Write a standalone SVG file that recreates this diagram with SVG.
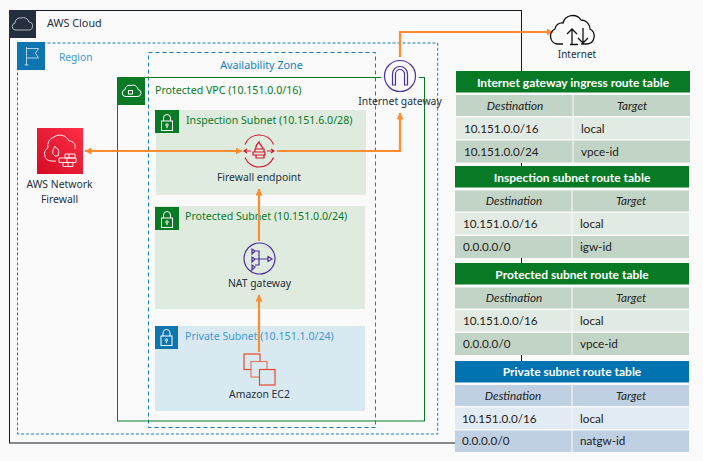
<svg xmlns="http://www.w3.org/2000/svg" width="703" height="461" viewBox="0 0 703 461">
<style>
text{font-family:"Noto Sans","Open Sans","Liberation Sans",sans-serif;font-size:10.4px;fill:#232f3e}
.m{text-anchor:middle}
.c{font-size:10.8px}
.g{fill:#087a26;font-size:10.6px}.b{fill:#147eba;font-size:10.8px}.lb{fill:#3b99d6;font-size:10.6px}
.ic{fill:none;stroke:#fff;stroke-width:1}
.flow{fill:none;stroke:#ff8c2e;stroke-width:2.2}
.t{font-family:Lato,"Liberation Sans",sans-serif;font-size:11.7px;fill:#222}
.th{font-family:Lato,"Liberation Sans",sans-serif;font-size:12px;font-weight:700;fill:#fff;text-anchor:middle}
.ci{font-style:italic;text-anchor:middle}
.dg{fill:#c2d4c5}.lg{fill:#e2ebe3}.dbl{fill:#bfd0e3}.lbl{fill:#e2eaf3}
.hg{fill:#087a26}.hb{fill:#0073b0}
.gap{fill:#fafafa}
.pur{fill:none;stroke:#4d31a0;stroke-width:1.2}
.red{fill:none;stroke:#d4162f;stroke-width:1.2}
.ec2{fill:none;stroke:#e4492a;stroke-width:1.2}
</style>
<defs>
<marker id="ah" markerWidth="8" markerHeight="8" refX="6.5" refY="3.500" orient="auto-start-reverse" markerUnits="userSpaceOnUse"><path d="M0 0L7 3.500L0 7z" fill="#ff8c2e"/></marker>
<linearGradient id="fw" x1="0" y1="1" x2="1" y2="0"><stop offset="0" stop-color="#d40a24"/><stop offset="1" stop-color="#ff3048"/></linearGradient>
<g id="lock"><rect x="-5.500" y="-1" width="11" height="9.500" class="ic"/><path class="ic" d="M-3.500-1v-3a3.500 3.500 0 0 1 7 0v3"/><circle cx="0" cy="3" r="1.200" class="ic"/><path class="ic" d="M0 4.200v2"/></g>
</defs>
<rect width="703" height="461" fill="#fafafa"/>

<g id="aws-cloud">
<rect x="9.500" y="10.500" width="512" height="432.500" fill="none" stroke="#10191f" stroke-width="1"/>
<rect x="9" y="10" width="27" height="28" fill="#232f3e"/>
<path d="M15 30h13a4 4 0 0 0 1-8 6 6 0 0 0-8-4 5 5 0 0 0-6 5 3.600 3.600 0 0 0 0 7z" fill="none" stroke="#d5dbdb" stroke-width=".8"/>
<text x="47" y="27" class="c">AWS Cloud</text>
</g>
<g id="region">
<rect x="17.500" y="43" width="420.200" height="391" fill="none" stroke="#147eba" stroke-dasharray="3 2" stroke-width="1"/>
<rect x="17" y="42" width="28" height="28" fill="#0f75b0"/>
<path d="M26.500 47v18M24.500 65h4M26.500 48.500h12l-3 4.500 3 5h-12" fill="none" stroke="#dbeaf4" stroke-width=".8"/>
<text x="59" y="61" class="lb" style="font-size:10.2px">Region</text>
</g>
<g id="availability-zone">
<rect x="148.500" y="52.500" width="227" height="375" fill="none" stroke="#147eba" stroke-dasharray="4 3" stroke-width="1"/>
<text x="261.500" y="69" class="m b">Availability Zone</text>
</g>
<g id="vpc">
<rect x="117.500" y="77.500" width="307" height="343.500" fill="none" stroke="#087a26" stroke-width="1"/>
<rect x="117" y="77" width="28" height="28" fill="#087a26"/>
<path d="M125 96.500h12a3.500 3.500 0 0 0 1-7 5 5 0 0 0-7-4 4.500 4.500 0 0 0-6 4 3.600 3.600 0 0 0 0 7z" class="ic"/>
<rect x="128.500" y="90.500" width="4" height="3.500" class="ic"/>
<text x="155" y="94" class="g">Protected VPC (10.151.0.0/16)</text>
</g>
<g id="inspection-subnet">
<rect x="156" y="110" width="210" height="85" fill="#e0ebdf"/>
<rect x="155" y="110" width="24" height="23" fill="#087a26"/>
<use href="#lock" x="167" y="122"/>
<text x="186" y="124" class="g">Inspection Subnet (10.151.6.0/28)</text>
</g>
<g id="protected-subnet">
<rect x="155" y="206" width="210" height="103" fill="#e0ebdf"/>
<rect x="155" y="207" width="24" height="23" fill="#087a26"/>
<use href="#lock" x="167" y="219"/>
<text x="185" y="220" class="g">Protected Subnet (10.151.0.0/24)</text>
</g>
<g id="private-subnet">
<rect x="155" y="326" width="210" height="85" fill="#d9e9f1"/>
<rect x="155" y="326" width="23" height="23" fill="#0f75b0"/>
<use href="#lock" x="166.500" y="337"/>
<text x="185" y="340" class="lb">Private Subnet (10.151.1.0/24)</text>
</g>

<g id="connectors">
<path class="flow" d="M85 151H242" marker-start="url(#ah)" marker-end="url(#ah)"/>
<path class="flow" d="M277 151H400V113" marker-end="url(#ah)"/>
<path class="flow" d="M259 241V189" marker-end="url(#ah)"/>
<path class="flow" d="M259 352V295" marker-end="url(#ah)"/>
<path class="flow" d="M400 60V32H553" marker-end="url(#ah)"/>
</g>

<g id="aws-network-firewall">
<rect x="37" y="128" width="46" height="46" fill="url(#fw)"/>
<path d="M56 161h-5a7 7 0 0 1-3-13 9 9 0 0 1 6-11 10 10 0 0 1 15 4 6 6 0 0 1 6 8" fill="none" stroke="#fff" stroke-width=".9"/>
<path d="M55 156c-4-3-2-6 0-10 1 2 2 3 3 3 1 2 1 4 0 7z" fill="none" stroke="#fff" stroke-width=".9"/>
<path d="M65 154h10v4h-10zM59 158h17v4.500h-17zM63 162.500h10v4h-10zM69 154v4M67 158v4.500M68 162.500v4" fill="none" stroke="#fff" stroke-width=".9"/>
<text x="59.500" y="188.300" class="m">AWS Network</text>
<text x="59.500" y="202.600" class="m">Firewall</text>
</g>
<g id="firewall-endpoint">
<path class="red" d="M245 144.400A15.500 15.500 0 0 1 273.500 144.400M245 157.600A15.500 15.500 0 0 0 273.500 157.600"/>
<path class="red" d="M244 151h7M274 151h-7M247 149l-3 2 3 2M271 149l3 2-3 2"/>
<path class="red" d="M256 149c-1-3 1-5 3-7 0 2 3 3 4 7M255 149h9v3h-9zM253 152h12v3h-12zM256 155h8v3h-8z"/>
<text x="259" y="181" class="m">Firewall endpoint</text>
</g>
<g id="internet-gateway">
<circle cx="400" cy="76" r="19" fill="#fafafa" stroke="none"/>
<circle cx="400" cy="76" r="15.500" class="pur"/>
<path class="pur" d="M392.500 85V74a7.500 7.500 0 0 1 15 0V85h-3V74a4.500 4.500 0 0 0-9 0V85z"/>
<text x="400" y="105" class="m">Internet gateway</text>
</g>
<g id="nat-gateway">
<circle cx="259.500" cy="258.500" r="15.500" class="pur"/>
<path class="pur" d="M255 251l-3-2v5zM255 259l-3-2v5zM255 267l-3-2v5zM255 251h4v14h-4M255 259h13M268 256.500l4 2.500-4 2.500z"/>
<text x="259.500" y="287" class="m">NAT gateway</text>
</g>
<g id="amazon-ec2">
<rect x="244" y="354" width="16" height="15.500" class="ec2"/>
<rect x="251" y="361.500" width="16" height="15.500" fill="#d9e9f1" stroke="#e87a60" stroke-width="1.200"/>
<rect x="259.500" y="369.500" width="15.500" height="15.500" fill="#d9e9f1" stroke="#e4492a" stroke-width="1.200"/>
<text x="259.500" y="398" class="m">Amazon EC2</text>
</g>
<g id="internet">
<path d="M563 44h-6a8 8 0 0 1-2-15 7 7 0 0 1 8-6 10 10 0 0 1 18-3 9 9 0 0 1 9 9 8 8 0 0 1-3 15h-6" fill="none" stroke="#111" stroke-width="1.300"/>
<path d="M572 44V29M567 34l5-5 5 5M583 28v15M578 38l5 5 5-5M570 44.500h8" fill="none" stroke="#111" stroke-width="1.300"/>
<text x="577" y="58" class="m" style="font-size:10px">Internet</text>
</g>

<g id="igw-table">
<rect x="456" y="71" width="234" height="92" class="gap"/>
<rect x="456" y="71" width="234" height="21.500" class="hg"/>
<text x="573" y="87" class="th">Internet gateway ingress route table</text>
<rect x="456" y="95" width="116.500" height="21" class="dg"/><rect x="573.500" y="95" width="116.500" height="21" class="dg"/>
<rect x="456" y="117.500" width="116.500" height="21.500" class="lg"/><rect x="573.500" y="117.500" width="116.500" height="21.500" class="lg"/>
<rect x="456" y="140.500" width="116.500" height="22" class="dg"/><rect x="573.500" y="140.500" width="116.500" height="22" class="dg"/>
<text x="515" y="110" class="t ci">Destination</text><text x="632" y="110" class="t ci">Target</text>
<text x="464" y="133" class="t">10.151.0.0/16</text><text x="581" y="133" class="t">local</text>
<text x="464" y="156" class="t">10.151.0.0/24</text><text x="581" y="156" class="t">vpce-id</text>
</g>
<g id="inspection-table">
<rect x="455" y="166" width="234" height="92" class="gap"/>
<rect x="455" y="166" width="234" height="21.500" class="hg"/>
<text x="572" y="182" class="th">Inspection subnet route table</text>
<rect x="455" y="190.500" width="116.500" height="21" class="dg"/><rect x="572.500" y="190.500" width="116.500" height="21" class="dg"/>
<rect x="455" y="213" width="116.500" height="21.500" class="lg"/><rect x="572.500" y="213" width="116.500" height="21.500" class="lg"/>
<rect x="455" y="236" width="116.500" height="22" class="dg"/><rect x="572.500" y="236" width="116.500" height="22" class="dg"/>
<text x="514" y="205" class="t ci">Destination</text><text x="631" y="205" class="t ci">Target</text>
<text x="463" y="228" class="t">10.151.0.0/16</text><text x="580" y="228" class="t">local</text>
<text x="463" y="251" class="t">0.0.0.0/0</text><text x="580" y="251" class="t">igw-id</text>
</g>
<g id="protected-table">
<rect x="455" y="263" width="234" height="92" class="gap"/>
<rect x="455" y="263" width="234" height="21.500" class="hg"/>
<text x="572" y="279" class="th">Protected subnet route table</text>
<rect x="455" y="287.500" width="116.500" height="21" class="dg"/><rect x="572.500" y="287.500" width="116.500" height="21" class="dg"/>
<rect x="455" y="310" width="116.500" height="21.500" class="lg"/><rect x="572.500" y="310" width="116.500" height="21.500" class="lg"/>
<rect x="455" y="333" width="116.500" height="22" class="dg"/><rect x="572.500" y="333" width="116.500" height="22" class="dg"/>
<text x="514" y="302" class="t ci">Destination</text><text x="631" y="302" class="t ci">Target</text>
<text x="463" y="325" class="t">10.151.0.0/16</text><text x="580" y="325" class="t">local</text>
<text x="463" y="348" class="t">0.0.0.0/0</text><text x="580" y="348" class="t">vpce-id</text>
</g>
<g id="private-table">
<rect x="455" y="361" width="234" height="91" class="gap"/>
<rect x="455" y="361" width="234" height="21.500" class="hb"/>
<text x="572" y="376" class="th">Private subnet route table</text>
<rect x="455" y="385" width="116.500" height="21" class="dbl"/><rect x="572.500" y="385" width="116.500" height="21" class="dbl"/>
<rect x="455" y="407.500" width="116.500" height="21.500" class="lbl"/><rect x="572.500" y="407.500" width="116.500" height="21.500" class="lbl"/>
<rect x="455" y="430.500" width="116.500" height="21.500" class="dbl"/><rect x="572.500" y="430.500" width="116.500" height="21.500" class="dbl"/>
<text x="513" y="400" class="t ci">Destination</text><text x="631" y="400" class="t ci">Target</text>
<text x="462" y="423" class="t">10.151.0.0/16</text><text x="580" y="423" class="t">local</text>
<text x="462" y="445" class="t">0.0.0.0/0</text><text x="580" y="445" class="t">natgw-id</text>
</g>
</svg>
